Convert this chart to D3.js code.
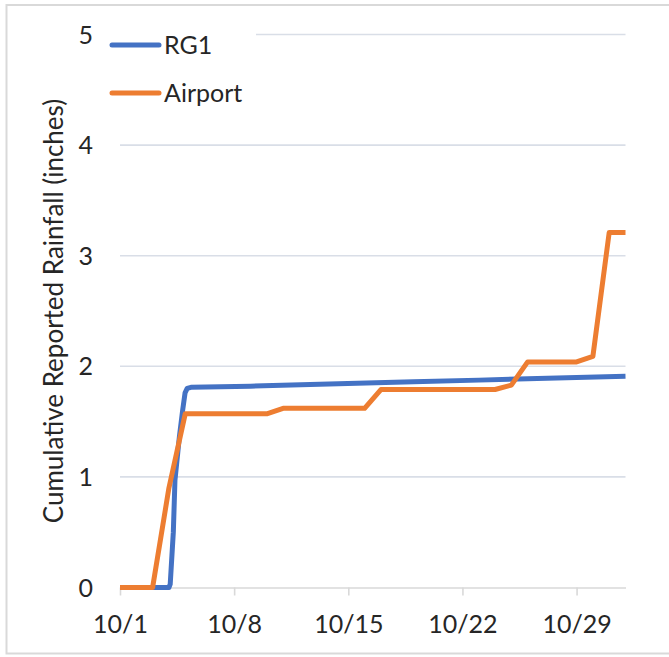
<!DOCTYPE html>
<html>
<head>
<meta charset="utf-8">
<script src="https://cdn.jsdelivr.net/npm/d3@7"></script>
<style>
  html, body { margin: 0; padding: 0; background: #fff; }
  svg { display: block; font-family: Lato, "Open Sans", sans-serif; }
</style>
</head>
<body>
<svg id="chart" width="669" height="657"></svg>
<script>
// October day-of-month (32 = Nov 1) and cumulative rainfall in inches
const airportDays = [1, 2, 3, 4, 5, 6, 7, 8, 9, 10, 11, 12, 13, 14, 15, 16, 17, 18, 19, 20, 21, 22, 23, 24, 25, 26, 27, 28, 29, 30, 31, 32];
const airportValues = [0, 0, 0, 0.90, 1.57, 1.57, 1.57, 1.57, 1.57, 1.57, 1.62, 1.62, 1.62, 1.62, 1.62, 1.62, 1.79, 1.79, 1.79, 1.79, 1.79, 1.79, 1.79, 1.79, 1.83, 2.04, 2.04, 2.04, 2.04, 2.09, 3.21, 3.21];

// Rain gauge RG1 logs at sub-daily resolution
const rg1Days = [1, 4.0, 4.08, 4.27, 4.37, 4.64, 4.84, 4.99, 5.12, 5.35, 9, 19, 23, 32];
const rg1Values = [0, 0, 0.03, 0.50, 0.97, 1.36, 1.60, 1.76, 1.80, 1.81, 1.82, 1.86, 1.875, 1.91];

const seriesNames = ["RG1", "Airport"];
const seriesColors = ["#4472C4", "#ED7D31"];

const xTickDays = [1, 8, 15, 22, 29];
const xTickLabels = ["10/1", "10/8", "10/15", "10/22", "10/29"];
const yTicks = [0, 1, 2, 3, 4, 5];
const yTitle = "Cumulative Reported Rainfall (inches)";

const svg = d3.select("#chart");

// chart frame
svg.append("rect")
  .attr("x", 6.5).attr("y", 5).attr("width", 670).attr("height", 648.5)
  .attr("fill", "#fff").attr("stroke", "#d9d9d9").attr("stroke-width", 2);

const plot = { left: 120, right: 625.5, top: 34.5, bottom: 587.5 };

const x = d3.scaleLinear().domain([1, 32]).range([plot.left, plot.right]);
const y = d3.scaleLinear().domain([0, 5]).range([plot.bottom, plot.top]);

// horizontal gridlines
svg.append("g")
  .selectAll("line")
  .data(yTicks.filter(t => t > 0))
  .join("line")
  .attr("x1", plot.left).attr("x2", plot.right)
  .attr("y1", d => y(d)).attr("y2", d => y(d))
  .attr("stroke", "#d9dee7").attr("stroke-width", 1.6);

// y tick labels
svg.append("g")
  .selectAll("text")
  .data(yTicks)
  .join("text")
  .attr("x", 93)
  .attr("y", d => y(d))
  .attr("dy", "0.36em")
  .attr("text-anchor", "end")
  .attr("font-size", 25)
  .attr("fill", "#262626")
  .text(d => d);

// x axis
const xAxis = d3.axisBottom(x)
  .tickValues(xTickDays)
  .tickFormat((d, i) => xTickLabels[i])
  .tickSizeInner(8)
  .tickSizeOuter(0)
  .tickPadding(20);

const gx = svg.append("g")
  .attr("transform", `translate(0,${plot.bottom})`)
  .call(xAxis);
gx.select(".domain").attr("stroke", "#d9d9d9").attr("stroke-width", 1.6);
gx.selectAll(".tick line").attr("stroke", "#d9d9d9").attr("stroke-width", 1.6);
gx.selectAll(".tick text")
  .attr("font-size", 25)
  .attr("font-family", "Lato, 'Open Sans', sans-serif")
  .attr("fill", "#262626");

// y axis title
svg.append("text")
  .attr("transform", `translate(63,${(plot.top + plot.bottom) / 2}) rotate(-90)`)
  .attr("text-anchor", "middle")
  .attr("font-size", 26)
  .attr("fill", "#262626")
  .text(yTitle);

// series
const line = d3.line()
  .x(d => x(d[0]))
  .y(d => y(d[1]));

const rg1 = rg1Days.map((d, i) => [d, rg1Values[i]]);
const airport = airportDays.map((d, i) => [d, airportValues[i]]);

svg.append("path")
  .datum(rg1)
  .attr("d", line)
  .attr("fill", "none")
  .attr("stroke", seriesColors[0])
  .attr("stroke-width", 5)
  .attr("stroke-linejoin", "round");

svg.append("path")
  .datum(airport)
  .attr("d", line)
  .attr("fill", "none")
  .attr("stroke", seriesColors[1])
  .attr("stroke-width", 5)
  .attr("stroke-linejoin", "round");

// legend, drawn over the plot on a white box
const legend = svg.append("g");
legend.append("rect")
  .attr("x", 106).attr("y", 26).attr("width", 150).attr("height", 86)
  .attr("fill", "#fff");
const legendRows = legend.selectAll("g")
  .data(seriesNames)
  .join("g")
  .attr("transform", (d, i) => `translate(112,${45 + i * 48})`);
legendRows.append("line")
  .attr("x1", 0).attr("x2", 47)
  .attr("stroke", (d, i) => seriesColors[i])
  .attr("stroke-width", 5)
  .attr("stroke-linecap", "round");
legendRows.append("text")
  .attr("x", 52)
  .attr("dy", "0.36em")
  .attr("font-size", 25)
  .attr("fill", "#262626")
  .text(d => d);
</script>
</body>
</html>
